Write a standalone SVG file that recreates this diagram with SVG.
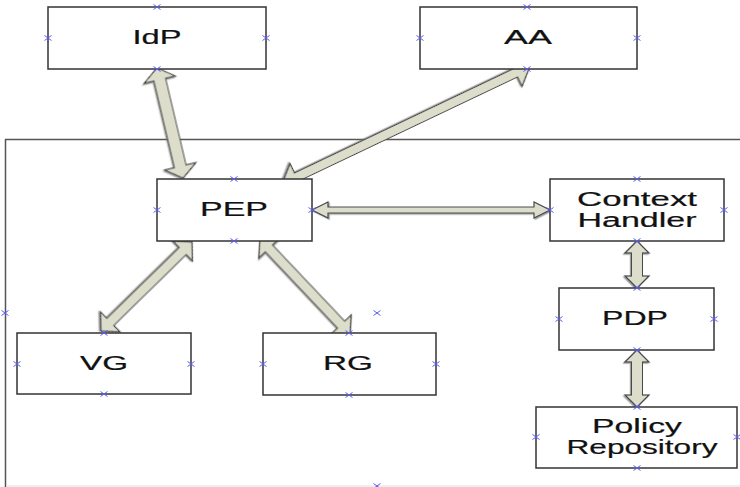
<svg xmlns="http://www.w3.org/2000/svg" xmlns:xlink="http://www.w3.org/1999/xlink" width="740" height="487" viewBox="0 0 740 487">
<style>
.box{fill:#fff;stroke:#333;stroke-width:1.5}
.lbl{font-family:"Liberation Sans",Arial,sans-serif;font-size:20px;fill:#111;text-anchor:middle;stroke:#111;stroke-width:0.2}
.arr{fill:#dcdecb;stroke:#4a4a4a;stroke-width:1.2;stroke-linejoin:miter;filter:url(#sh)}
.mk{stroke:#5a5af5;stroke-width:1;fill:none}
.cont{stroke:#555;stroke-width:1.5;fill:none}
</style>
<defs>
<filter id="sh" x="-20%" y="-20%" width="140%" height="140%">
<feDropShadow dx="1.2" dy="1.2" stdDeviation="0.7" flood-color="#777" flood-opacity="0.7"/>
</filter>
<path id="x" class="mk" d="M-3.5,-2.5 L3.5,2.5 M-3.5,2.5 L3.5,-2.5"/>
</defs>
<g id="container">
<path class="cont" d="M5,139.5 H740 M5.5,139 V487"/>
<path d="M6,486 H740" stroke="#ddd" stroke-width="1"/>
<use xlink:href="#x" x="5" y="313"/>
<use xlink:href="#x" x="377" y="313"/>
<use xlink:href="#x" x="377" y="486"/>
</g>
<g id="connectors">
<path class="arr" transform="translate(157,68) rotate(76.7)" d="M0,0 L12,-16 L12,-6 L101,-6 L101,-16 L113,0 L101,16 L101,6 L12,6 L12,16 Z"/>
<path class="arr" transform="translate(530,66) rotate(154.56)" d="M0,0 L16,-15 L16,-4.5 L258.6,-4.5 L258.6,-15 L274.6,0 L258.6,15 L258.6,4.5 L16,4.5 L16,15 Z"/>
<path class="arr" transform="translate(312,210)" d="M0,0 L16,-8 L16,-3 L222,-3 L222,-8 L238,0 L222,8 L222,3 L16,3 L16,8 Z"/>
<path class="arr" transform="translate(192,242) rotate(135.64)" d="M0,0 L13,-14 L13,-5 L114.3,-5 L114.3,-14 L127.3,0 L114.3,14 L114.3,5 L13,5 L13,14 Z"/>
<path class="arr" transform="translate(260,239) rotate(46.55)" d="M0,0 L13,-14 L13,-5 L117.9,-5 L117.9,-14 L130.9,0 L117.9,14 L117.9,5 L13,5 L13,14 Z"/>
<path class="arr" transform="translate(637,241) rotate(90)" d="M0,0 L12,-12 L12,-5.5 L35,-5.5 L35,-12 L47,0 L35,12 L35,5.5 L12,5.5 L12,12 Z"/>
<path class="arr" transform="translate(637,350) rotate(90)" d="M0,0 L12,-12 L12,-5.5 L45,-5.5 L45,-12 L57,0 L45,12 L45,5.5 L12,5.5 L12,12 Z"/>
</g>
<g id="IdP">
<rect class="box" x="48" y="7" width="218" height="62"/>
<text class="lbl" x="157" y="44" textLength="49" lengthAdjust="spacingAndGlyphs">IdP</text>
<use xlink:href="#x" x="157" y="7"/><use xlink:href="#x" x="48" y="38"/><use xlink:href="#x" x="266" y="38"/><use xlink:href="#x" x="157" y="69"/>
</g>
<g id="AA">
<rect class="box" x="420" y="7" width="217" height="62"/>
<text class="lbl" x="528" y="44" textLength="48" lengthAdjust="spacingAndGlyphs">AA</text>
<use xlink:href="#x" x="527" y="7"/><use xlink:href="#x" x="420" y="38"/><use xlink:href="#x" x="637" y="38"/><use xlink:href="#x" x="527" y="69"/>
</g>
<g id="PEP">
<rect class="box" x="157" y="179" width="155" height="62"/>
<text class="lbl" x="234" y="216" textLength="68" lengthAdjust="spacingAndGlyphs">PEP</text>
<use xlink:href="#x" x="234" y="179"/><use xlink:href="#x" x="157" y="210"/><use xlink:href="#x" x="312" y="210"/><use xlink:href="#x" x="234" y="241"/>
</g>
<g id="ContextHandler">
<rect class="box" x="550" y="179" width="174" height="62"/>
<text class="lbl" x="637" y="206" textLength="120" lengthAdjust="spacingAndGlyphs">Context</text>
<text class="lbl" x="637" y="227" textLength="119" lengthAdjust="spacingAndGlyphs">Handler</text>
<use xlink:href="#x" x="637" y="179"/><use xlink:href="#x" x="550" y="210"/><use xlink:href="#x" x="724" y="210"/><use xlink:href="#x" x="637" y="241"/>
</g>
<g id="PDP">
<rect class="box" x="559" y="288" width="155" height="62"/>
<text class="lbl" x="635" y="325" textLength="66" lengthAdjust="spacingAndGlyphs">PDP</text>
<use xlink:href="#x" x="637" y="288"/><use xlink:href="#x" x="559" y="319"/><use xlink:href="#x" x="714" y="319"/><use xlink:href="#x" x="637" y="350"/>
</g>
<g id="PolicyRepository">
<rect class="box" x="536" y="407" width="201" height="61"/>
<text class="lbl" x="637" y="433" textLength="90" lengthAdjust="spacingAndGlyphs">Policy</text>
<text class="lbl" x="642" y="454" textLength="151" lengthAdjust="spacingAndGlyphs">Repository</text>
<use xlink:href="#x" x="637" y="407"/><use xlink:href="#x" x="536" y="437"/><use xlink:href="#x" x="737" y="437"/><use xlink:href="#x" x="637" y="468"/>
</g>
<g id="VG">
<rect class="box" x="17" y="333" width="174" height="61"/>
<text class="lbl" x="104" y="370" textLength="48" lengthAdjust="spacingAndGlyphs">VG</text>
<use xlink:href="#x" x="104" y="333"/><use xlink:href="#x" x="17" y="364"/><use xlink:href="#x" x="191" y="364"/><use xlink:href="#x" x="104" y="394"/>
</g>
<g id="RG">
<rect class="box" x="263" y="333" width="173" height="62"/>
<text class="lbl" x="348" y="370" textLength="50" lengthAdjust="spacingAndGlyphs">RG</text>
<use xlink:href="#x" x="349" y="333"/><use xlink:href="#x" x="263" y="364"/><use xlink:href="#x" x="436" y="364"/><use xlink:href="#x" x="349" y="395"/>
</g>
</svg>
